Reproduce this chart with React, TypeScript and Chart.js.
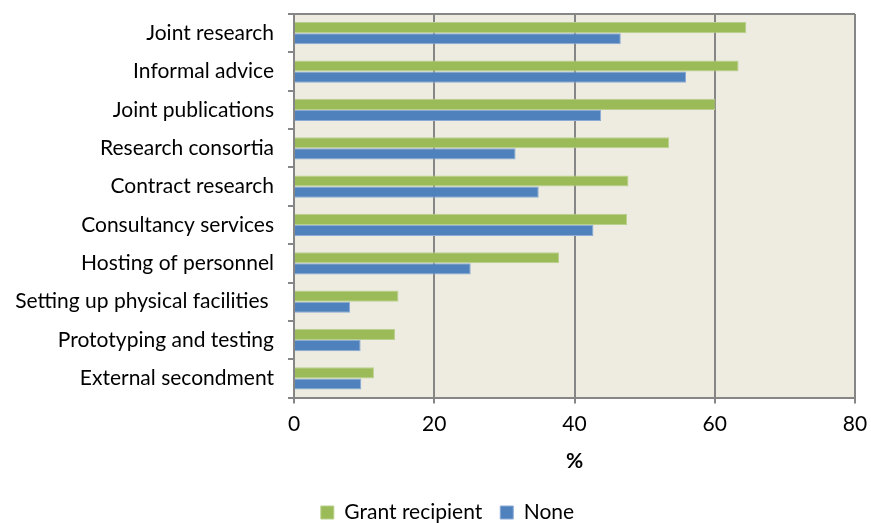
import React, { useEffect, useRef } from "react";
import { Chart, registerables } from "chart.js";

Chart.register(...registerables);

const categories = [
  "Joint research",
  "Informal advice",
  "Joint publications",
  "Research consortia",
  "Contract research",
  "Consultancy services",
  "Hosting of personnel",
  "Setting up physical facilities ",
  "Prototyping and testing",
  "External secondment",
];
const grantRecipient = [64.5, 63.4, 60.1, 53.5, 47.7, 47.5, 37.8, 14.9, 14.4, 11.4];
const none = [46.6, 55.9, 43.8, 31.6, 34.9, 42.7, 25.2, 8.0, 9.5, 9.6];
const xTicks = [0, 20, 40, 60, 80];

const FONT = "Lato, 'Open Sans', sans-serif";
const GRID = "#868686";

const plotDecor = {
  id: "plotDecor",
  afterLayout(chart: any) {
    if (chart.legend) {
      chart.legend.left += 18;
      chart.legend.right += 18;
    }
  },
  beforeDraw(chart: any) {
    const { ctx, chartArea } = chart;
    ctx.save();
    ctx.fillStyle = "#EEECE1";
    ctx.fillRect(chartArea.left, chartArea.top, chartArea.right - chartArea.left, chartArea.bottom - chartArea.top);
    ctx.restore();
  },
  afterDraw(chart: any) {
    const { ctx, chartArea } = chart;
    ctx.save();
    ctx.strokeStyle = GRID;
    ctx.lineWidth = 2;
    ctx.beginPath();
    ctx.moveTo(chartArea.left, chartArea.top);
    ctx.lineTo(chartArea.right, chartArea.top);
    ctx.stroke();
    ctx.restore();
  },
};

export default function App() {
  const ref = useRef<HTMLCanvasElement>(null);
  useEffect(() => {
    if (!ref.current) return;
    const chart = new Chart(ref.current, {
      type: "bar",
      data: {
        labels: categories,
        datasets: [
          {
            label: "Grant recipient",
            data: grantRecipient,
            backgroundColor: "#9BBB59",
            borderColor: "#B9D08C",
            borderWidth: 1,
            categoryPercentage: 0.58,
            barPercentage: 1.0,
          },
          {
            label: "None",
            data: none,
            backgroundColor: "#4F81BD",
            borderColor: "#8CAAD4",
            borderWidth: 1,
            categoryPercentage: 0.58,
            barPercentage: 1.0,
          },
        ],
      },
      options: {
        indexAxis: "y",
        animation: false,
        responsive: false,
        maintainAspectRatio: false,
        layout: { padding: { top: 14, right: 16, left: 4, bottom: -10 } },
        plugins: {
          legend: {
            position: "bottom",
            labels: {
              boxWidth: 13,
              boxHeight: 13,
              color: "#000",
              font: { family: FONT, size: 21 },
              padding: 18,
            },
          },
          tooltip: { enabled: false },
        },
        scales: {
          x: {
            min: 0,
            max: 80,
            afterBuildTicks(scale: any) {
              scale.ticks = xTicks.map((v) => ({ value: v }));
            },
            afterFit(scale: any) {
              scale.paddingLeft = 0;
              scale.paddingRight = 0;
            },
            grid: {
              color: GRID,
              lineWidth: 2,
              tickLength: 6,
              tickColor: GRID,
            },
            border: { color: GRID, width: 2 },
            ticks: {
              color: "#000",
              font: { family: FONT, size: 21 },
              padding: 8,
            },
            title: {
              display: true,
              text: "%",
              color: "#000",
              font: { family: FONT, size: 21, weight: "bold" },
              padding: { top: 4, bottom: 10 },
            },
          },
          y: {
            afterFit(scale: any) {
              scale.width = 290;
              scale.paddingTop = 0;
              scale.paddingBottom = 0;
            },
            grid: {
              drawOnChartArea: false,
              tickLength: 6,
              tickColor: GRID,
              lineWidth: 2,
            },
            border: { color: GRID, width: 2 },
            ticks: {
              color: "#000",
              font: { family: FONT, size: 21 },
              padding: 14,
            },
          },
        },
      },
      plugins: [plotDecor],
    });
    return () => chart.destroy();
  }, []);
  return (
    <div style={{ position: "absolute", left: 0, top: 0, width: 871, height: 523, background: "#fff" }}>
      <canvas ref={ref} width={871} height={523} />
    </div>
  );
}
